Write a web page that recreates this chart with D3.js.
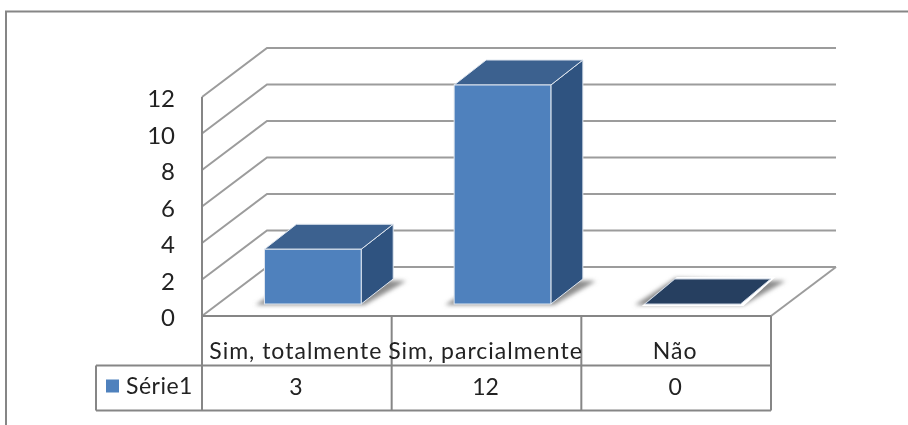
<!DOCTYPE html>
<html><head><meta charset="utf-8">
<script src="https://cdn.jsdelivr.net/npm/d3@7"></script>
<style>
html,body{margin:0;padding:0;background:#fff;overflow:hidden}
svg{display:block;filter:blur(0.55px)}
text{font-family:Lato,"Open Sans",sans-serif;fill:#222}
</style></head><body><div id="c"></div>
<script>
const categories = ["Sim, totalmente", "Sim, parcialmente", "Não"];
const values = [3, 12, 0];
const seriesName = "Série1";
const yTicks = [0, 2, 4, 6, 8, 10, 12];

const W = 908, H = 425;
const svg = d3.select("#c").append("svg").attr("width", W).attr("height", H);
const grey = "#868686", grid = "#9c9c9c";

const y = d3.scaleLinear().domain([0, 12]).range([316, 97]);
const x0 = 202, x1 = 771, backDx = 65, backDy = -49;
const cell = d3.scaleBand().domain(categories).range([x0, x1]);
const floorDx = 16, floorDy = -12;
const band = d3.scaleBand().domain(categories)
  .range([x0 + floorDx, x1 + floorDx]).paddingInner(0.49).paddingOuter(0.245);
const depthDx = 32, depthDy = -25;
const line = d3.line();

// frame
svg.append("path").attr("d", line([[6, H], [6, 11.5], [W, 11.5]]))
  .attr("fill", "none").attr("stroke", grey).attr("stroke-width", 2);

// walls
const walls = svg.append("g").attr("fill", "none").attr("stroke", grid).attr("stroke-width", 2);
yTicks.forEach(t => {
  walls.append("path").attr("d", line([
    [x0, y(t)], [x0 + backDx, y(t) + backDy], [x1 + backDx, y(t) + backDy]
  ]));
});
walls.append("path").attr("d", line([[x1, y(0)], [x1 + backDx, y(0) + backDy]]));

// bars
const defs = svg.append("defs");
defs.append("filter").attr("id", "sh").attr("x", "-20%").attr("y", "-50%").attr("width", "140%").attr("height", "200%")
  .append("feGaussianBlur").attr("stdDeviation", 2);

const baseY = y(0) + floorDy;
const bars = svg.append("g").selectAll("g").data(categories.map((c, i) => ({c, v: values[i]}))).join("g");
bars.each(function(d) {
  const g = d3.select(this);
  const xl = band(d.c), xr = xl + band.bandwidth();
  const yb = baseY, yt = baseY - (y(0) - y(d.v));
  // floor shadow
  g.append("path").attr("filter", "url(#sh)").attr("fill", "#8c8c8c")
    .attr("d", line([[xl - 9, yb + 1], [xr + 3, yb + 1], [xr + depthDx + 13, yb + depthDy + 2], [xl + depthDx, yb + depthDy - 1]]) + "Z");
  if (d.v === 0) {
    g.append("path").attr("fill", "#fff")
      .attr("d", line([[xl - 2, yb + 2], [xr + 3, yb + 2], [xr + depthDx + 3, yb + depthDy - 2], [xl + depthDx + 1, yb + depthDy - 2]]) + "Z");
    g.append("path").attr("fill", "#263f60").attr("stroke", "#c9d3e0").attr("stroke-width", 1)
      .attr("d", line([[xl + 1, yb], [xr, yb], [xr + depthDx - 2, yb + depthDy], [xl + depthDx - 1, yb + depthDy]]) + "Z");
    return;
  }
  g.append("path").attr("fill", "#2f5380").attr("stroke", "#dfe6ef").attr("stroke-width", 1)
    .attr("d", line([[xr, yb], [xr + depthDx, yb + depthDy], [xr + depthDx, yt + depthDy], [xr, yt]]) + "Z");
  g.append("path").attr("fill", "#3c618f").attr("stroke", "#dfe6ef").attr("stroke-width", 1)
    .attr("d", line([[xl, yt], [xr, yt], [xr + depthDx, yt + depthDy], [xl + depthDx, yt + depthDy]]) + "Z");
  g.append("rect").attr("x", xl).attr("y", yt).attr("width", xr - xl).attr("height", yb - yt)
    .attr("fill", "#4f81bd").attr("stroke", "#dfe6ef").attr("stroke-width", 1);
});

// y axis
const axis = svg.append("g").attr("transform", `translate(${x0},0)`)
  .call(d3.axisLeft(y).tickValues(yTicks).tickSize(0).tickPadding(27));
axis.select(".domain").remove();
axis.selectAll("text").attr("font-size", 24).attr("dy", "0.4em")
  .style("font-family", "Lato,'Open Sans',sans-serif").style("fill", "#222");

// data table
const rowTop = y(0), rowMid = 365.5, rowBot = 410.5, legLeft = 96;
const tbl = svg.append("g").attr("fill", "none").attr("stroke", grey).attr("stroke-width", 2);
tbl.append("path").attr("d", line([[x0, rowTop], [x1, rowTop]]));
tbl.append("path").attr("d", line([[legLeft, rowMid], [x1, rowMid]]));
tbl.append("path").attr("d", line([[legLeft, rowBot], [x1, rowBot]]));
tbl.append("path").attr("d", line([[legLeft, rowMid], [legLeft, rowBot]]));
tbl.append("path").attr("d", line([[x0, y(12)], [x0, rowBot]]));
categories.forEach(c => {
  const xr = cell(c) + cell.bandwidth();
  tbl.append("path").attr("d", line([[xr, rowTop], [xr, rowBot]]));
});

const labelFs = 23;
svg.append("g").selectAll("text").data(categories).join("text")
  .attr("x", d => cell(d) + cell.bandwidth() / 2 - 1)
  .attr("y", 359).attr("text-anchor", "middle").attr("font-size", labelFs)
  .style("letter-spacing", "1px").text(d => d);
svg.append("g").selectAll("text").data(values).join("text")
  .attr("x", (d, i) => cell(categories[i]) + cell.bandwidth() / 2 - 1)
  .attr("y", 395).attr("text-anchor", "middle").attr("font-size", labelFs).text(d => d);
svg.append("rect").attr("x", 106).attr("y", 379.5).attr("width", 13).attr("height", 13).attr("fill", "#4f81bd");
svg.append("text").attr("x", 126).attr("y", 394).attr("font-size", labelFs).style("letter-spacing", "0.5px").text(seriesName);
</script></body></html>
